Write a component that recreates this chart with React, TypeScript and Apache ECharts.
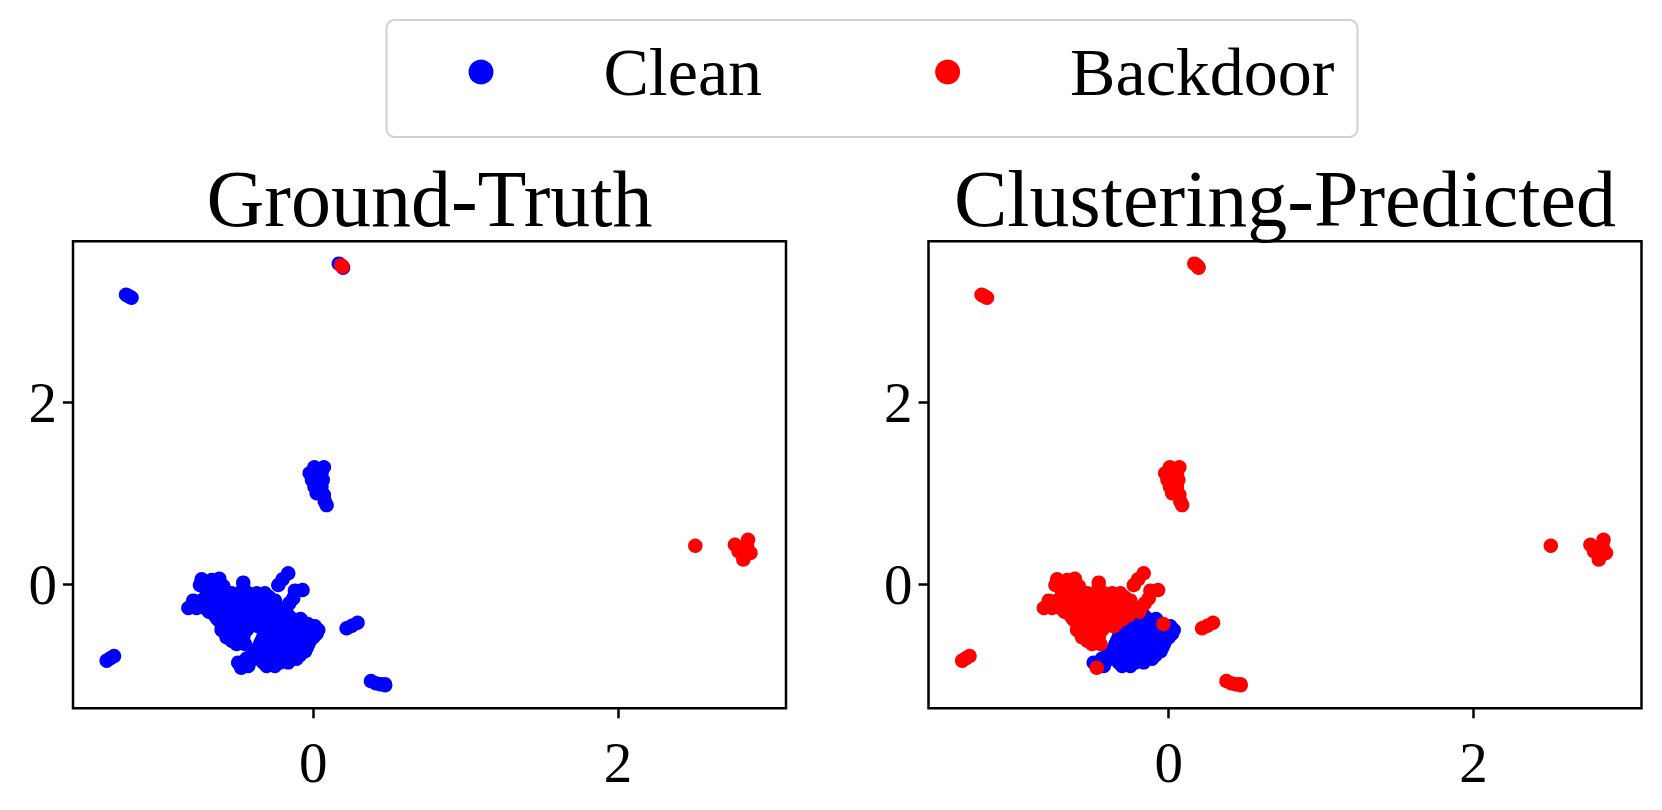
import React, { useEffect, useRef } from "react";
import * as echarts from "echarts";

// ---------- data ----------
const legendNames = ["Clean", "Backdoor"];
const panelTitles = ["Ground-Truth", "Clustering-Predicted"];
const xTickValues = [0, 2];
const yTickValues = [0, 2];
const xRange = [-1.576, 3.102];
const yRange = [-1.366, 3.778];

// main cluster, ground-truth clean, predicted backdoor
const mainPredBackdoor = [
  [-0.732, 0.055], [-0.666, 0.047], [-0.616, 0.062],
  [-0.743, -0.008], [-0.688, -0.008], [-0.634, -0.008], [-0.59, -0.019],
  [-0.459, 0.018], [-0.459, -0.045],
  [-0.164, 0.121], [-0.201, 0.055], [-0.229, -0.008],
  [-0.12, -0.07], [-0.07, -0.063], [-0.131, -0.155], [-0.157, -0.21],
  [-0.699, -0.1], [-0.645, -0.1], [-0.59, -0.1], [-0.535, -0.1], [-0.481, -0.1], [-0.426, -0.1], [-0.371, -0.1], [-0.317, -0.1],
  [-0.673, -0.14], [-0.618, -0.14], [-0.564, -0.14], [-0.509, -0.14], [-0.454, -0.14], [-0.4, -0.14], [-0.345, -0.14], [-0.29, -0.14],
  [-0.787, -0.18], [-0.732, -0.18], [-0.677, -0.18], [-0.623, -0.18], [-0.568, -0.18], [-0.513, -0.18], [-0.459, -0.18], [-0.404, -0.18], [-0.349, -0.18], [-0.295, -0.18], [-0.251, -0.18],
  [-0.76, -0.221], [-0.706, -0.221], [-0.651, -0.221], [-0.596, -0.221], [-0.542, -0.221], [-0.487, -0.221], [-0.433, -0.221], [-0.378, -0.221], [-0.323, -0.221], [-0.269, -0.221],
  [-0.819, -0.261], [-0.765, -0.261], [-0.71, -0.261], [-0.655, -0.261], [-0.601, -0.261], [-0.546, -0.261], [-0.492, -0.261], [-0.437, -0.261], [-0.382, -0.261], [-0.328, -0.261], [-0.273, -0.261], [-0.218, -0.261],
  [-0.684, -0.302], [-0.629, -0.302], [-0.575, -0.302], [-0.52, -0.302], [-0.465, -0.302], [-0.411, -0.302], [-0.356, -0.302], [-0.301, -0.302], [-0.247, -0.302], [-0.192, -0.302],
  [-0.645, -0.342], [-0.59, -0.342], [-0.535, -0.342], [-0.481, -0.342], [-0.426, -0.342], [-0.371, -0.342], [-0.317, -0.342], [-0.262, -0.342],
  [-0.629, -0.382], [-0.575, -0.382], [-0.52, -0.382], [-0.465, -0.382], [-0.411, -0.382], [-0.356, -0.382], [-0.301, -0.382],
  [-0.607, -0.423], [-0.557, -0.423], [-0.502, -0.423], [-0.448, -0.423], [-0.393, -0.423], [-0.338, -0.423],
  [-0.579, -0.463], [-0.524, -0.463], [-0.47, -0.463], [-0.415, -0.463], [-0.36, -0.463],
  [-0.601, -0.503], [-0.546, -0.503], [-0.492, -0.503], [-0.437, -0.503],
  [-0.575, -0.544], [-0.52, -0.544], [-0.465, -0.544],
  [-0.568, -0.584], [-0.513, -0.584], [-0.459, -0.584],
  [-0.535, -0.621], [-0.481, -0.621],
  [-0.502, -0.658], [-0.448, -0.658],
  [-0.035, -0.437], [-0.472, -0.92],
];

// main cluster, ground-truth clean, predicted clean
const mainPredClean = [
  [-0.207, -0.342], [-0.164, -0.342],
  [-0.247, -0.382], [-0.192, -0.382], [-0.137, -0.382], [-0.083, -0.382],
  [-0.284, -0.423], [-0.229, -0.423], [-0.175, -0.423], [-0.12, -0.423], [-0.065, -0.423],
  [-0.306, -0.463], [-0.251, -0.463], [-0.196, -0.463], [-0.142, -0.463], [-0.087, -0.463], [-0.032, -0.463], [0.011, -0.463],
  [-0.328, -0.503], [-0.273, -0.503], [-0.218, -0.503], [-0.164, -0.503], [-0.109, -0.503], [-0.054, -0.503], [0.0, -0.503], [0.033, -0.503],
  [-0.301, -0.544], [-0.247, -0.544], [-0.192, -0.544], [-0.137, -0.544], [-0.083, -0.544], [-0.028, -0.544], [0.022, -0.544],
  [-0.328, -0.584], [-0.273, -0.584], [-0.218, -0.584], [-0.164, -0.584], [-0.109, -0.584], [-0.054, -0.584], [0.0, -0.584],
  [-0.338, -0.621], [-0.284, -0.621], [-0.229, -0.621], [-0.175, -0.621], [-0.12, -0.621], [-0.065, -0.621], [-0.022, -0.621],
  [-0.349, -0.658], [-0.295, -0.658], [-0.24, -0.658], [-0.185, -0.658], [-0.131, -0.658], [-0.076, -0.658], [-0.032, -0.658],
  [-0.36, -0.698], [-0.306, -0.698], [-0.251, -0.698], [-0.196, -0.698], [-0.142, -0.698], [-0.087, -0.698], [-0.043, -0.698],
  [-0.371, -0.738], [-0.317, -0.738], [-0.262, -0.738], [-0.207, -0.738], [-0.153, -0.738], [-0.098, -0.738], [-0.054, -0.738],
  [-0.404, -0.779], [-0.349, -0.779], [-0.295, -0.779], [-0.24, -0.779], [-0.185, -0.779], [-0.131, -0.779], [-0.087, -0.779],
  [-0.437, -0.819], [-0.382, -0.819], [-0.328, -0.819], [-0.273, -0.819], [-0.218, -0.819], [-0.164, -0.819], [-0.109, -0.819],
  [-0.448, -0.86], [-0.328, -0.86], [-0.273, -0.86], [-0.218, -0.86], [-0.164, -0.86],
  [-0.426, -0.9], [-0.306, -0.9], [-0.251, -0.9], [-0.492, -0.863],
];

const upperLeftCluster = [[-1.228, 3.19], [-1.215, 3.178], [-1.203, 3.168], [-1.192, 3.157]];
const verticalCluster = [
  [0.07, 1.29], [0.008, 1.29], [-0.023, 1.224], [0.054, 1.224], [-0.008, 1.151], [0.063, 1.151],
  [0.008, 1.077], [0.054, 1.077], [0.023, 1.004], [0.07, 0.986], [0.076, 0.913], [0.088, 0.872],
];
const satelliteCluster = [[0.219, -0.485], [0.254, -0.456], [0.291, -0.423]];
const lowerLeftCluster = [[-1.355, -0.841], [-1.331, -0.815], [-1.307, -0.79]];
const bottomCluster = [[0.379, -1.066], [0.41, -1.09], [0.44, -1.1], [0.472, -1.113], [0.47, -1.1]];
const topClean = [[0.168, 3.532], [0.196, 3.488]];
const topBackdoor = [[0.184, 3.513], [0.193, 3.497]];
const rightBackdoor = [
  [2.507, 0.425], [2.853, 0.491], [2.767, 0.436], [2.822, 0.4], [2.869, 0.345],
  [2.822, 0.272], [2.791, 0.363], [2.847, 0.418],
];

// ---------- derived groups ----------
const truthClean = [
  ...mainPredBackdoor, ...mainPredClean, ...upperLeftCluster, ...verticalCluster,
  ...satelliteCluster, ...lowerLeftCluster, ...bottomCluster, ...topClean,
];
const truthBackdoor = [...topBackdoor, ...rightBackdoor];
const predClean = [...mainPredClean];
const predBackdoor = [
  ...mainPredBackdoor, ...upperLeftCluster, ...verticalCluster, ...satelliteCluster,
  ...lowerLeftCluster, ...bottomCluster, ...topClean, ...topBackdoor, ...rightBackdoor,
];

const FONT = "Liberation Serif";
const BLUE = "#0000ff";
const RED = "#ff0000";

const gridLefts = [73, 928.5];
const gridTop = 241.3;
const gridW = 713;
const gridH = 467;

function scatter(name: string, data: number[][], idx: number, color: string) {
  return {
    type: "scatter",
    name,
    data,
    xAxisIndex: idx,
    yAxisIndex: idx,
    symbol: "circle",
    symbolSize: 14.5,
    itemStyle: { color, opacity: 1 },
    silent: true,
    emphasis: { disabled: true },
  };
}

export default function App() {
  const ref = useRef<HTMLDivElement>(null);
  useEffect(() => {
    if (!ref.current) return;
    const chart = echarts.init(ref.current, undefined, { renderer: "svg" });
    const xAxes = [0, 1].map((i) => ({
      type: "value",
      gridIndex: i,
      min: xRange[0],
      max: xRange[1],
      axisLine: { show: false, onZero: false },
      splitLine: { show: false },
      axisTick: {
        show: true,
        inside: false,
        length: 10,
        lineStyle: { color: "#000", width: 2.5 },
        customValues: xTickValues,
      },
      axisLabel: {
        customValues: xTickValues,
        fontFamily: FONT,
        fontSize: 57,
        color: "#000",
        margin: 26,
      },
    }));
    const yAxes = [0, 1].map((i) => ({
      type: "value",
      gridIndex: i,
      min: yRange[0],
      max: yRange[1],
      axisLine: { show: false, onZero: false },
      splitLine: { show: false },
      axisTick: {
        show: true,
        inside: false,
        length: 10,
        lineStyle: { color: "#000", width: 2.5 },
        customValues: yTickValues,
      },
      axisLabel: {
        customValues: yTickValues,
        fontFamily: FONT,
        fontSize: 57,
        color: "#000",
        margin: 16,
      },
    }));
    chart.setOption({
      animation: false,
      backgroundColor: "#ffffff",
      title: panelTitles.map((t, i) => ({
        text: t,
        left: gridLefts[i] + gridW / 2,
        top: 159,
        textAlign: "center",
        textVerticalAlign: "top",
        padding: 0,
        textStyle: { fontFamily: FONT, fontSize: 80, fontWeight: "normal", color: "#000", lineHeight: 80 },
      })),
      legend: {
        data: legendNames,
        left: 468.5,
        top: 38,
        padding: 0,
        itemWidth: 25,
        itemHeight: 25,
        itemGap: 173,
        icon: "circle",
        selectedMode: false,
        textStyle: {
          fontFamily: FONT,
          fontSize: 68,
          color: "#000",
          lineHeight: 25,
          padding: [0, 0, 0, 105],
        },
      },
      graphic: [
        {
          type: "rect",
          shape: { x: 386.5, y: 20, width: 971, height: 117, r: 8 },
          style: { fill: "none", stroke: "#d0d0d0", lineWidth: 2 },
          silent: true,
        },
      ],
      grid: gridLefts.map((l) => ({
        left: l,
        top: gridTop,
        width: gridW,
        height: gridH,
        show: true,
        borderColor: "#000",
        borderWidth: 2.5,
        backgroundColor: "transparent",
        containLabel: false,
      })),
      xAxis: xAxes,
      yAxis: yAxes,
      series: [
        scatter(legendNames[0], truthClean, 0, BLUE),
        scatter(legendNames[1], truthBackdoor, 0, RED),
        scatter(legendNames[0], predClean, 1, BLUE),
        scatter(legendNames[1], predBackdoor, 1, RED),
      ],
    });
    return () => chart.dispose();
  }, []);
  return (
    <div
      ref={ref}
      style={{ position: "absolute", left: 0, top: 0, width: 1662, height: 810, background: "#fff" }}
    />
  );
}
